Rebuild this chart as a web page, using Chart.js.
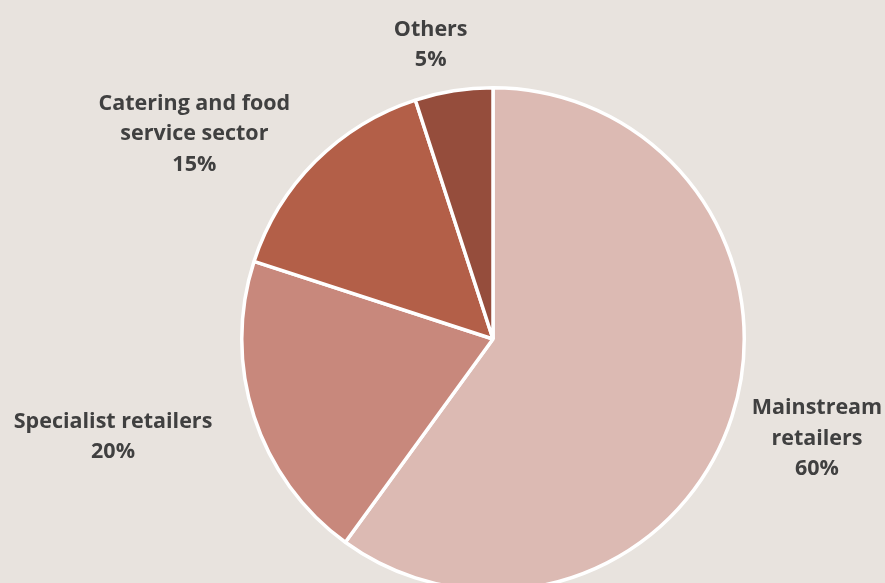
<!DOCTYPE html>
<html>
<head>
<meta charset="utf-8">
<script src="https://cdn.jsdelivr.net/npm/chart.js@4/dist/chart.umd.min.js"></script>
<style>
  html, body { margin: 0; padding: 0; background: #e8e3de; overflow: hidden; width: 885px; height: 583px; }
  #wrap { position: relative; width: 885px; height: 600px; }
</style>
</head>
<body>
<div id="wrap"><canvas id="c"></canvas></div>
<script>
const categories = ["Mainstream retailers", "Specialist retailers", "Catering and food service sector", "Others"];
const labelLines = [["Mainstream", "retailers"], ["Specialist retailers"], ["Catering and food", "service sector"], ["Others"]];
const shares = [60, 20, 15, 5];
const colors = ["#dcbab3", "#c8887c", "#b35f48", "#954d3c"];
// label offsets from each slice's outer mid-point (layout only)
const labelOffsets = [[85, 22], [-141, 20], [-121, -27], [-23, -46]];

const labelPlugin = {
  id: 'sliceLabels',
  afterDatasetsDraw(chart) {
    const ctx = chart.ctx;
    const meta = chart.getDatasetMeta(0);
    ctx.save();
    ctx.font = 'bold 21.5px "Open Sans", sans-serif';
    ctx.fillStyle = '#404040';
    ctx.textAlign = 'center';
    ctx.textBaseline = 'middle';
    meta.data.forEach((arc, i) => {
      const p = arc.getProps(['x', 'y', 'startAngle', 'endAngle', 'outerRadius'], true);
      const mid = (p.startAngle + p.endAngle) / 2;
      const ax = p.x + Math.cos(mid) * p.outerRadius + labelOffsets[i][0];
      const ay = p.y + Math.sin(mid) * p.outerRadius + labelOffsets[i][1];
      const lines = labelLines[i].concat([shares[i] + '%']);
      const lh = 30.5;
      const top = ay - (lines.length - 1) * lh / 2;
      lines.forEach((t, k) => ctx.fillText(t, ax, top + k * lh));
    });
    ctx.restore();
  }
};

new Chart(document.getElementById('c'), {
  type: 'pie',
  data: {
    labels: categories,
    datasets: [{
      data: shares,
      backgroundColor: colors,
      borderColor: '#ffffff',
      borderWidth: 3.5
    }]
  },
  options: {
    responsive: true,
    maintainAspectRatio: false,
    animation: false,
    layout: { padding: { top: 86, bottom: 8, left: 240, right: 139 } },
    plugins: { legend: { display: false }, tooltip: { enabled: false } }
  },
  plugins: [labelPlugin]
});
</script>
</body>
</html>
